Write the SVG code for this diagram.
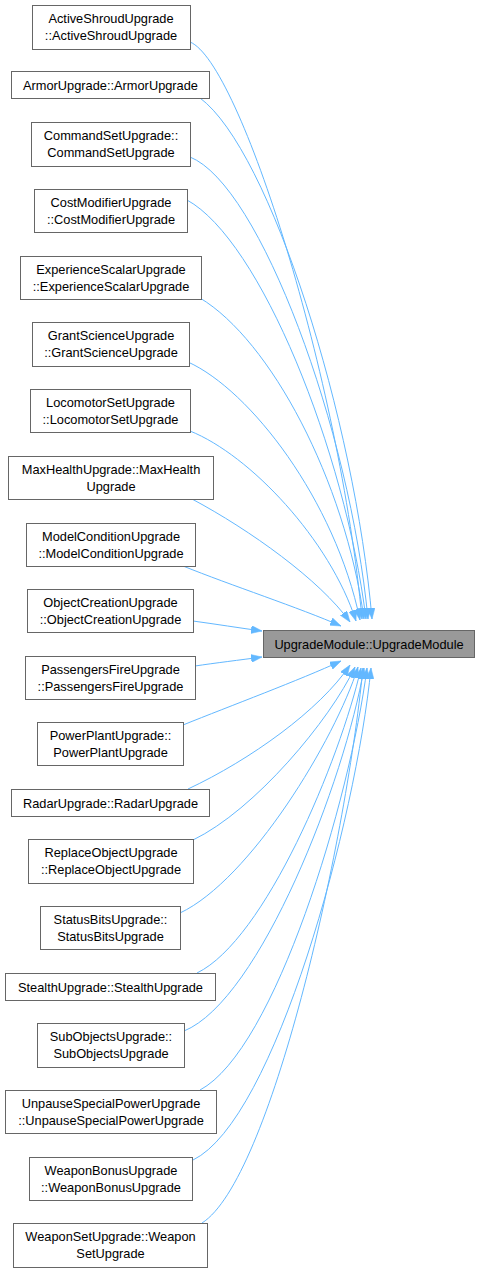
<svg xmlns="http://www.w3.org/2000/svg" width="480" height="1272" viewBox="0 0 480 1272">
<style>
.n rect{fill:#ffffff;stroke:#666666;stroke-width:1}
.t rect{fill:#999999;stroke:#666666;stroke-width:1}
text{font-family:"Liberation Sans",Arial,sans-serif;font-size:12.8px;fill:#000000;text-anchor:middle}
.e path{fill:none;stroke:#63b8ff;stroke-width:1}
</style>
<defs>
<marker id="ah" markerUnits="userSpaceOnUse" markerWidth="11" markerHeight="8" refX="11" refY="4" orient="auto">
<path d="M0,0 L11,4 L0,8 z" fill="#63b8ff" stroke="#63b8ff" stroke-width="0.5"/>
</marker>
</defs>
<g id="edges" class="e">
<path d="M190,42 C240,62 340,380 362,619" marker-end="url(#ah)"/>
<path d="M200,98 C270,150 355,420 372,619" marker-end="url(#ah)"/>
<path d="M190,157 C260,185 350,430 368,619" marker-end="url(#ah)"/>
<path d="M187,200 C260,240 345,450 366,619" marker-end="url(#ah)"/>
<path d="M200,298 C270,340 345,480 364,619" marker-end="url(#ah)"/>
<path d="M188,362 C250,390 335,500 360,620" marker-end="url(#ah)"/>
<path d="M190,431 C250,455 330,540 356,621" marker-end="url(#ah)"/>
<path d="M192,499 C250,530 320,580 350,622" marker-end="url(#ah)"/>
<path d="M183,566 C230,585 300,608 341,626" marker-end="url(#ah)"/>
<path d="M193,621 C215,624 240,628 262,631" marker-end="url(#ah)"/>
<path d="M195,666 C215,663 240,660 262,657" marker-end="url(#ah)"/>
<path d="M183,725 C230,706 300,680 341,661" marker-end="url(#ah)"/>
<path d="M188,789 C250,760 320,710 350,665" marker-end="url(#ah)"/>
<path d="M193,840 C255,810 330,720 355,667" marker-end="url(#ah)"/>
<path d="M180,913 C250,880 335,740 358,667" marker-end="url(#ah)"/>
<path d="M197,973 C265,940 340,760 361,668" marker-end="url(#ah)"/>
<path d="M184,1031 C260,1000 345,780 364,668" marker-end="url(#ah)"/>
<path d="M200,1090 C275,1050 350,800 367,668" marker-end="url(#ah)"/>
<path d="M193,1160 C275,1120 356,820 371,668" marker-end="url(#ah)"/>
<path d="M202,1223 C270,1180 345,850 363,668" marker-end="url(#ah)"/>
</g>
<g id="target" class="t"><rect x="263.5" y="630.5" width="211" height="27"/><text x="369" y="648.5">UpgradeModule::UpgradeModule</text></g>
<g id="n1" class="n"><rect x="32.5" y="5.5" width="158" height="44"/><text x="111" y="23">ActiveShroudUpgrade</text><text x="111" y="39.5">::ActiveShroudUpgrade</text></g>
<g id="n2" class="n"><rect x="11.5" y="71.5" width="198" height="27"/><text x="110.5" y="89.5">ArmorUpgrade::ArmorUpgrade</text></g>
<g id="n3" class="n"><rect x="31.5" y="122.5" width="159" height="44"/><text x="111" y="140">CommandSetUpgrade::</text><text x="111" y="156.5">CommandSetUpgrade</text></g>
<g id="n4" class="n"><rect x="34.5" y="189.5" width="153" height="43"/><text x="111" y="207">CostModifierUpgrade</text><text x="111" y="223.5">::CostModifierUpgrade</text></g>
<g id="n5" class="n"><rect x="20.5" y="256.5" width="181" height="43"/><text x="111" y="274">ExperienceScalarUpgrade</text><text x="111" y="290.5">::ExperienceScalarUpgrade</text></g>
<g id="n6" class="n"><rect x="32.5" y="322.5" width="157" height="44"/><text x="111" y="340">GrantScienceUpgrade</text><text x="111" y="356.5">::GrantScienceUpgrade</text></g>
<g id="n7" class="n"><rect x="30.5" y="389.5" width="160" height="43"/><text x="110.5" y="407">LocomotorSetUpgrade</text><text x="110.5" y="423.5">::LocomotorSetUpgrade</text></g>
<g id="n8" class="n"><rect x="8.5" y="456.5" width="205" height="43"/><text x="111" y="474">MaxHealthUpgrade::MaxHealth</text><text x="111" y="490.5">Upgrade</text></g>
<g id="n9" class="n"><rect x="26.5" y="523.5" width="169" height="43"/><text x="111" y="541">ModelConditionUpgrade</text><text x="111" y="557.5">::ModelConditionUpgrade</text></g>
<g id="n10" class="n"><rect x="27.5" y="589.5" width="166" height="43"/><text x="110.5" y="607">ObjectCreationUpgrade</text><text x="110.5" y="623.5">::ObjectCreationUpgrade</text></g>
<g id="n11" class="n"><rect x="25.5" y="656.5" width="170" height="43"/><text x="110.5" y="674">PassengersFireUpgrade</text><text x="110.5" y="690.5">::PassengersFireUpgrade</text></g>
<g id="n12" class="n"><rect x="37.5" y="722.5" width="146" height="43"/><text x="110.5" y="740">PowerPlantUpgrade::</text><text x="110.5" y="756.5">PowerPlantUpgrade</text></g>
<g id="n13" class="n"><rect x="11.5" y="789.5" width="198" height="27"/><text x="110.5" y="807.5">RadarUpgrade::RadarUpgrade</text></g>
<g id="n14" class="n"><rect x="28.5" y="839.5" width="165" height="44"/><text x="111" y="857">ReplaceObjectUpgrade</text><text x="111" y="873.5">::ReplaceObjectUpgrade</text></g>
<g id="n15" class="n"><rect x="40.5" y="906.5" width="140" height="43"/><text x="110.5" y="924">StatusBitsUpgrade::</text><text x="110.5" y="940.5">StatusBitsUpgrade</text></g>
<g id="n16" class="n"><rect x="5.5" y="973.5" width="210" height="27"/><text x="110.5" y="991.5">StealthUpgrade::StealthUpgrade</text></g>
<g id="n17" class="n"><rect x="37.5" y="1023.5" width="147" height="44"/><text x="111" y="1041">SubObjectsUpgrade::</text><text x="111" y="1057.5">SubObjectsUpgrade</text></g>
<g id="n18" class="n"><rect x="5.5" y="1090.5" width="211" height="43"/><text x="111" y="1108">UnpauseSpecialPowerUpgrade</text><text x="111" y="1124.5">::UnpauseSpecialPowerUpgrade</text></g>
<g id="n19" class="n"><rect x="29.5" y="1157.5" width="163" height="43"/><text x="111" y="1175">WeaponBonusUpgrade</text><text x="111" y="1191.5">::WeaponBonusUpgrade</text></g>
<g id="n20" class="n"><rect x="13.5" y="1223.5" width="194" height="44"/><text x="110.5" y="1241">WeaponSetUpgrade::Weapon</text><text x="110.5" y="1257.5">SetUpgrade</text></g>
</svg>
